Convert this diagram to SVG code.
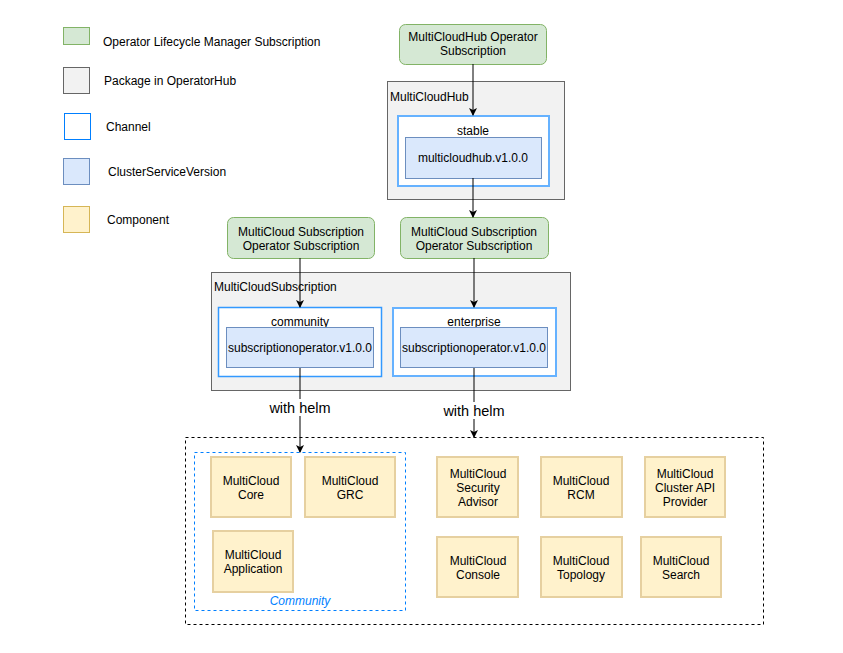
<svg xmlns="http://www.w3.org/2000/svg" width="843" height="653" viewBox="0 0 843 653">
<defs>
<marker id="arr" markerWidth="10" markerHeight="10" refX="7" refY="5" orient="auto" markerUnits="userSpaceOnUse">
<path d="M0,1 L8,5 L0,9 L2,5 Z" fill="#000"/>
</marker>
<style>
text{font-family:"Liberation Sans",Arial,Helvetica,sans-serif;font-size:12px;fill:#000}
.c{text-anchor:middle}
.olm{fill:#d5e8d4;stroke:#82b366;stroke-width:1}
.pkg{fill:#f2f2f2;stroke:#666666;stroke-width:1}
.ch{fill:#ffffff;stroke:#66b2ff;stroke-width:2}
.csv{fill:#dae8fc;stroke:#6c8ebf;stroke-width:1}
.cmp{fill:#fff2cc;stroke:#e6d0a0;stroke-width:2}
.edge{stroke:#000;stroke-width:1;fill:none;marker-end:url(#arr)}
.lbl{font-size:14.5px}
</style>
</defs>
<rect width="843" height="653" fill="#fff"/>

<g id="legend">
<rect class="olm" x="63.5" y="27.5" width="26" height="17"/>
<text x="103" y="46">Operator Lifecycle Manager Subscription</text>
<rect class="pkg" x="63.5" y="67.5" width="26" height="26"/>
<text x="104" y="85">Package in OperatorHub</text>
<rect x="64.5" y="113.5" width="26" height="26" fill="#fff" stroke="#007fff" stroke-width="1"/>
<text x="106" y="131">Channel</text>
<rect class="csv" x="63.5" y="158.5" width="26" height="26"/>
<text x="108" y="176">ClusterServiceVersion</text>
<rect x="63.5" y="206.5" width="26" height="26" fill="#fff2cc" stroke="#d6b656"/>
<text x="107" y="224">Component</text>
</g>

<g id="mch-sub">
<rect class="olm" x="399.5" y="24.5" width="147" height="40" rx="6"/>
<text class="c" x="473" y="41">MultiCloudHub Operator</text>
<text class="c" x="473" y="55">Subscription</text>
</g>

<g id="mch-pkg">
<rect class="pkg" x="387.5" y="81.5" width="177" height="118"/>
<text x="390" y="101">MultiCloudHub</text>
<rect class="ch" x="398" y="116" width="151" height="70"/>
<text class="c" x="473" y="135">stable</text>
<rect class="csv" x="405.5" y="137.5" width="136" height="41"/>
<text class="c" x="473" y="162">multicloudhub.v1.0.0</text>
</g>

<g id="mcs-sub-left">
<rect class="olm" x="227.5" y="217.5" width="147" height="41" rx="6"/>
<text class="c" x="301" y="236">MultiCloud Subscription</text>
<text class="c" x="301" y="250">Operator Subscription</text>
</g>

<g id="mcs-sub-right">
<rect class="olm" x="400.5" y="217.5" width="148" height="41" rx="6"/>
<text class="c" x="474" y="236">MultiCloud Subscription</text>
<text class="c" x="474" y="250">Operator Subscription</text>
</g>

<g id="mcs-pkg">
<rect class="pkg" x="211.5" y="272.5" width="359" height="118"/>
<text x="214" y="291">MultiCloudSubscription</text>
<rect x="218.5" y="307.5" width="163" height="69" fill="#fff" stroke="#3399ff" stroke-width="1.5"/>
<text class="c" x="300" y="326">community</text>
<rect class="csv" x="226.5" y="327.5" width="147" height="40"/>
<text class="c" x="300" y="352">subscriptionoperator.v1.0.0</text>
<rect class="ch" x="393" y="308" width="163" height="68"/>
<text class="c" x="474" y="326">enterprise</text>
<rect class="csv" x="400.5" y="327.5" width="147" height="40" stroke="#9fb6d8" stroke-width="1.5"/>
<text class="c" x="474" y="352">subscriptionoperator.v1.0.0</text>
</g>

<g id="components">
<rect x="185.5" y="437.5" width="578" height="187" fill="none" stroke="#000" stroke-dasharray="3,3"/>
<rect x="194.5" y="452.5" width="211" height="158" fill="none" stroke="#007fff" stroke-dasharray="3,3"/>
<text class="c" x="300" y="605" style="fill:#007fff;font-style:italic">Community</text>
</g>

<g id="mc-core"><rect class="cmp" x="211" y="457" width="80" height="60"/><text class="c" x="251" y="485">MultiCloud</text><text class="c" x="251" y="499">Core</text></g>
<g id="mc-grc"><rect class="cmp" x="305" y="457" width="90" height="60"/><text class="c" x="350" y="485">MultiCloud</text><text class="c" x="350" y="499">GRC</text></g>
<g id="mc-app"><rect class="cmp" x="213" y="531" width="80" height="61"/><text class="c" x="253" y="559">MultiCloud</text><text class="c" x="253" y="573">Application</text></g>
<g id="mc-sa"><rect class="cmp" x="437" y="457" width="81" height="60"/><text class="c" x="478" y="478">MultiCloud</text><text class="c" x="478" y="492">Security</text><text class="c" x="478" y="506">Advisor</text></g>
<g id="mc-rcm"><rect class="cmp" x="541" y="457" width="81" height="60"/><text class="c" x="581" y="485">MultiCloud</text><text class="c" x="581" y="499">RCM</text></g>
<g id="mc-capi"><rect class="cmp" x="645" y="457" width="80" height="60"/><text class="c" x="685" y="478">MultiCloud</text><text class="c" x="685" y="492">Cluster API</text><text class="c" x="685" y="506">Provider</text></g>
<g id="mc-console"><rect class="cmp" x="437" y="537" width="81" height="60"/><text class="c" x="478" y="565">MultiCloud</text><text class="c" x="478" y="579">Console</text></g>
<g id="mc-topology"><rect class="cmp" x="541" y="537" width="81" height="60"/><text class="c" x="581" y="565">MultiCloud</text><text class="c" x="581" y="579">Topology</text></g>
<g id="mc-search"><rect class="cmp" x="641" y="537" width="80" height="60"/><text class="c" x="681" y="565">MultiCloud</text><text class="c" x="681" y="579">Search</text></g>

<g id="connectors">
<line class="edge" x1="473" y1="64" x2="473" y2="115"/>
<line class="edge" x1="473" y1="178" x2="473" y2="217"/>
<line class="edge" x1="300" y1="258" x2="300" y2="307"/>
<line class="edge" x1="474" y1="258" x2="474" y2="307"/>
<line class="edge" x1="300" y1="368" x2="300" y2="452" stroke="#444"/>
<line class="edge" x1="474" y1="368" x2="474" y2="437"/>
<rect x="266" y="399" width="68" height="17" fill="#fff"/>
<text class="c lbl" x="300" y="413">with helm</text>
<rect x="440" y="402" width="68" height="17" fill="#fff"/>
<text class="c lbl" x="474" y="416">with helm</text>
</g>
</svg>
